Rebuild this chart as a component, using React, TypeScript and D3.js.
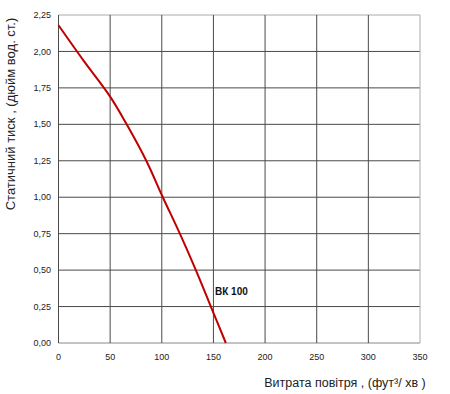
import React from "react";
import * as d3 from "d3";

const airflow = [0, 25, 50, 66, 85, 101, 117.5, 133, 147.5, 162];
const pressure = [2.18, 1.93, 1.69, 1.5, 1.25, 1.0, 0.75, 0.5, 0.25, 0];
const xTicks = [0, 50, 100, 150, 200, 250, 300, 350];
const yTicks = [0, 0.25, 0.5, 0.75, 1.0, 1.25, 1.5, 1.75, 2.0, 2.25];
const seriesLabel = "ВК 100";
const xTitle = "Витрата повітря , (фут³/  хв )";
const yTitle = "Статичний тиск , (дюйм вод. ст.)";

export default function App() {
  const W = 450, H = 394;
  const x = d3.scaleLinear().domain([0, 350]).range([58.5, 420]);
  const y = d3.scaleLinear().domain([0, 2.25]).range([343, 15]);
  const pts = airflow.map((a, i) => [a, pressure[i]] as [number, number]);
  const line = d3.line<[number, number]>().x(d => x(d[0])).y(d => y(d[1])).curve(d3.curveCatmullRom.alpha(0.5));
  const fmt = (v: number) => v.toFixed(2).replace(".", ",");
  const font = "Liberation Sans, Arial, sans-serif";
  return (
    <svg width={W} height={H} style={{ position: "absolute", left: 0, top: 0, background: "#fff" }}>
      {yTicks.map(t => (
        <line key={"gy" + t} x1={x(0)} x2={x(350)} y1={y(t)} y2={y(t)}
          stroke={t === 2.25 ? "#aaa" : t === 0 ? "#888" : "#4a4a4a"} strokeWidth={1} />
      ))}
      {xTicks.map(t => (
        <line key={"gx" + t} x1={x(t)} x2={x(t)} y1={y(0)} y2={y(2.25)}
          stroke={t === 350 ? "#aaa" : "#4a4a4a"} strokeWidth={1} />
      ))}
      {yTicks.map(t => (
        <text key={"ty" + t} x={51} y={y(t)} dy="0.35em" textAnchor="end" fontSize={9} fontFamily={font} fill="#222">{fmt(t)}</text>
      ))}
      {xTicks.map(t => (
        <text key={"tx" + t} x={x(t)} y={357} dy="0.35em" textAnchor="middle" fontSize={9} fontFamily={font} fill="#222">{t}</text>
      ))}
      <path d={line(pts) || ""} fill="none" stroke="#c00000" strokeWidth={2} />
      <text x={215} y={295} fontSize={10} fontWeight="bold" fontFamily={font} fill="#111">{seriesLabel}</text>
      <text x={345} y={387} textAnchor="middle" fontSize={12.5} fontFamily={font} fill="#222">{xTitle}</text>
      <text transform="translate(15,114) rotate(-90)" textAnchor="middle" fontSize={13} fontFamily={font} fill="#222">{yTitle}</text>
    </svg>
  );
}
